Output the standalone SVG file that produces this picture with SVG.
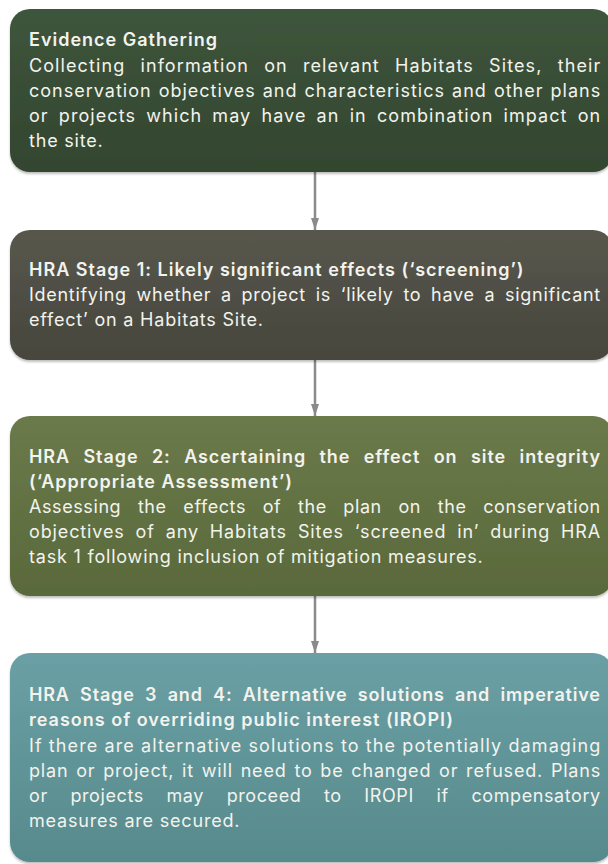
<svg xmlns="http://www.w3.org/2000/svg" width="608" height="864" viewBox="0 0 608 864">
  <style>
    .box { filter: url(#shadow); }
    .t { font-family: Inter, "Open Sans", "Liberation Sans", sans-serif; font-size: 18px; fill: #f3f3ee; }
    .h { font-weight: 600; letter-spacing: 1px; }
    .b { font-weight: 400; letter-spacing: 0.8px; }
    .conn line { stroke: #8a8a8a; stroke-width: 2.5; }
  </style>
  <defs>
    <filter id="shadow" x="-5%" y="-5%" width="110%" height="115%">
      <feDropShadow dx="0" dy="2" stdDeviation="1.2" flood-color="#000" flood-opacity="0.25"/>
    </filter>
    <linearGradient id="g1" x1="0" y1="0" x2="0" y2="1">
      <stop offset="0" stop-color="#3e553c"/>
      <stop offset="1" stop-color="#33462f"/>
    </linearGradient>
    <linearGradient id="g2" x1="0" y1="0" x2="0" y2="1">
      <stop offset="0" stop-color="#57574d"/>
      <stop offset="1" stop-color="#46463d"/>
    </linearGradient>
    <linearGradient id="g3" x1="0" y1="0" x2="0" y2="1">
      <stop offset="0" stop-color="#6b7a4a"/>
      <stop offset="1" stop-color="#59693b"/>
    </linearGradient>
    <linearGradient id="g4" x1="0" y1="0" x2="0" y2="1">
      <stop offset="0" stop-color="#6aa0a5"/>
      <stop offset="1" stop-color="#578a8c"/>
    </linearGradient>
    <marker id="arrow" viewBox="0 0 12 8" refX="12" refY="4" markerWidth="12" markerHeight="8" markerUnits="userSpaceOnUse" orient="auto">
      <path d="M0,0 L12,4 L0,8 Z" fill="#8a8a8a"/>
    </marker>
  </defs>

  <!-- connectors between stages -->
  <g id="connectors" class="conn">
    <line x1="315" y1="172" x2="315" y2="230" marker-end="url(#arrow)"/>
    <line x1="315" y1="360" x2="315" y2="416" marker-end="url(#arrow)"/>
    <line x1="315" y1="596" x2="315" y2="653" marker-end="url(#arrow)"/>
  </g>

  <!-- evidence gathering -->
  <g id="evidence-gathering">
    <rect class="box" x="10" y="9" width="603" height="163" rx="20" fill="url(#g1)"/>
    <text class="t h" x="29" y="46">Evidence Gathering</text>
    <text class="t b" x="29" y="72" textLength="572" lengthAdjust="spacing" word-spacing="9">Collecting information on relevant Habitats Sites, their</text>
    <text class="t b" x="29" y="97" textLength="572" lengthAdjust="spacing" word-spacing="1">conservation objectives and characteristics and other plans</text>
    <text class="t b" x="29" y="122" textLength="572" lengthAdjust="spacing" word-spacing="4">or projects which may have an in combination impact on</text>
    <text class="t b" x="29" y="147">the site.</text>
  </g>

  <!-- stage 1 -->
  <g id="stage-1">
    <rect class="box" x="10" y="230" width="603" height="130" rx="20" fill="url(#g2)"/>
    <text class="t h" x="29" y="276">HRA Stage 1: Likely significant effects (‘screening’)</text>
    <text class="t b" x="29" y="301" textLength="572" lengthAdjust="spacing" word-spacing="4">Identifying whether a project is ‘likely to have a significant</text>
    <text class="t b" x="29" y="326">effect’ on a Habitats Site.</text>
  </g>

  <!-- stage 2 -->
  <g id="stage-2">
    <rect class="box" x="10" y="416" width="603" height="180" rx="20" fill="url(#g3)"/>
    <text class="t h" x="29" y="463" textLength="572" lengthAdjust="spacing" word-spacing="8">HRA Stage 2: Ascertaining the effect on site integrity</text>
    <text class="t h" x="29" y="488">(‘Appropriate Assessment’)</text>
    <text class="t b" x="29" y="513" textLength="572" lengthAdjust="spacing" word-spacing="11">Assessing the effects of the plan on the conservation</text>
    <text class="t b" x="29" y="538" textLength="572" lengthAdjust="spacing" word-spacing="5">objectives of any Habitats Sites ‘screened in’ during HRA</text>
    <text class="t b" x="29" y="563">task 1 following inclusion of mitigation measures.</text>
  </g>

  <!-- stages 3 and 4 -->
  <g id="stage-3-4">
    <rect class="box" x="10" y="653" width="603" height="209" rx="20" fill="url(#g4)"/>
    <text class="t h" x="29" y="701" textLength="572" lengthAdjust="spacing" word-spacing="5">HRA Stage 3 and 4: Alternative solutions and imperative</text>
    <text class="t h" x="29" y="726">reasons of overriding public interest (IROPI)</text>
    <text class="t b" x="29" y="752" textLength="572" lengthAdjust="spacing" word-spacing="0">If there are alternative solutions to the potentially damaging</text>
    <text class="t b" x="29" y="777" textLength="572" lengthAdjust="spacing" word-spacing="2">plan or project, it will need to be changed or refused. Plans</text>
    <text class="t b" x="29" y="802" textLength="572" lengthAdjust="spacing" word-spacing="17">or projects may proceed to IROPI if compensatory</text>
    <text class="t b" x="29" y="827">measures are secured.</text>
  </g>
</svg>
